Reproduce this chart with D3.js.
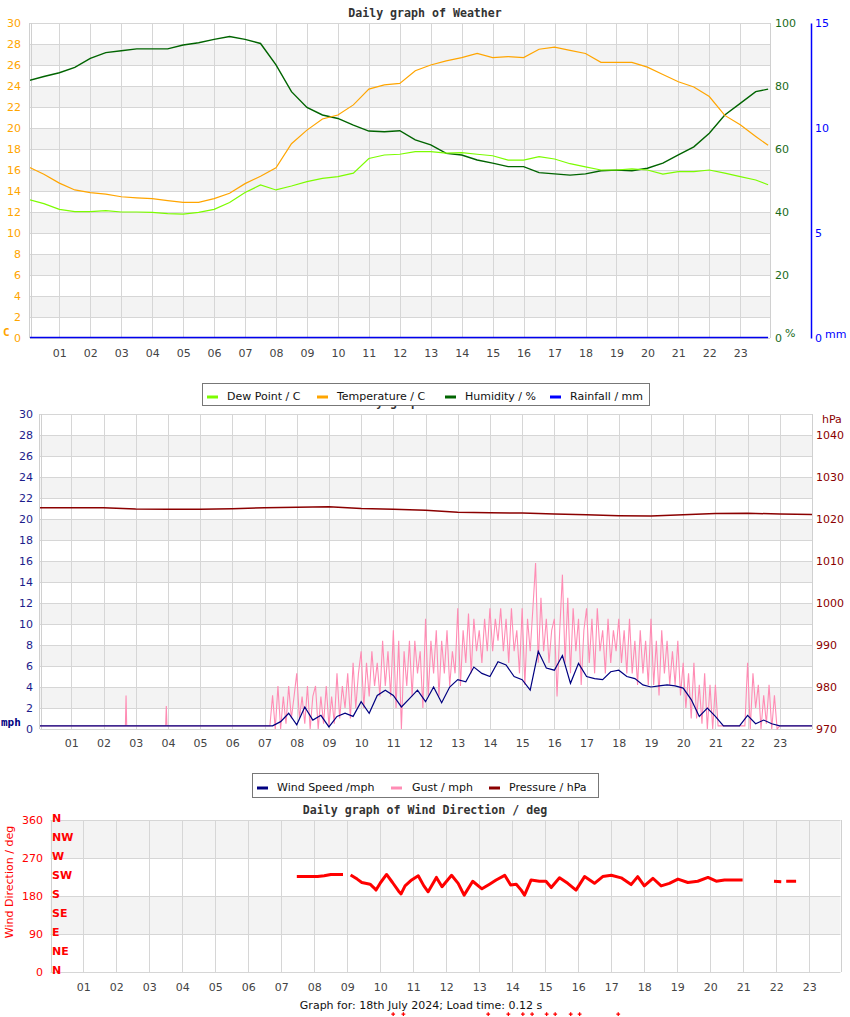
<!DOCTYPE html>
<meta charset="utf-8">
<script src="https://d3js.org/d3.v7.min.js"></script>
<style>
  body { margin: 0; background: #fff; }
  text { font-family: "DejaVu Sans", sans-serif; }
  .title { font-family: "DejaVu Sans Mono", monospace; font-weight: bold; font-size: 11.6px; fill: #333; }
  .unit { font-family: "DejaVu Sans Mono", monospace; font-weight: bold; font-size: 11px; }
</style>
<div id="my_dataviz"></div>
<script>

// ---- data ----
// weather graph: readings every half hour (last one just before midnight)
var halfHours = d3.range(0, 24, 0.5).concat([23.9]);
var temperature = [16.3, 15.6, 14.75, 14.1, 13.85, 13.7, 13.45, 13.35, 13.27, 13.08, 12.92, 12.92,
  13.27, 13.78, 14.7, 15.4, 16.2, 18.5, 19.8, 20.86, 21.24, 22.2, 23.7, 24.1,
  24.25, 25.45, 26.0, 26.4, 26.7, 27.1, 26.7, 26.8, 26.7, 27.5, 27.7, 27.4,
  27.1, 26.25, 26.25, 26.25, 25.8, 25.1, 24.4, 23.9, 23.0, 21.2, 20.3, 19.2, 18.35];
var dewPoint = [13.2, 12.8, 12.25, 12.03, 12.03, 12.13, 12.0, 12.0, 11.97, 11.85, 11.8, 11.97,
  12.25, 12.9, 13.85, 14.57, 14.1, 14.48, 14.9, 15.2, 15.37, 15.7, 17.1, 17.43,
  17.5, 17.75, 17.75, 17.6, 17.65, 17.5, 17.36, 16.95, 16.95, 17.27, 17.05, 16.6,
  16.3, 16.0, 16.0, 16.1, 16.0, 15.6, 15.85, 15.85, 16.0, 15.7, 15.37, 15.05, 14.6];
var humidity = [81.7, 83.0, 84.2, 85.9, 88.8, 90.6, 91.2, 91.8, 91.8, 91.8, 93.0, 93.75,
  94.8, 95.7, 94.8, 93.5, 86.7, 78.2, 73.2, 70.8, 69.7, 67.6, 65.7, 65.5,
  65.8, 62.9, 61.3, 58.6, 58.1, 56.5, 55.5, 54.4, 54.4, 52.5, 52.1, 51.7,
  52.1, 53.1, 53.3, 53.1, 53.9, 55.5, 58.1, 60.7, 65.0, 70.8, 74.5, 78.2, 79.0];
var rainfall = [[0, 0], [23.9, 0]];

// wind graph
var pressureHours = d3.range(0, 25);
var pressure = [1022.7, 1022.7, 1022.7, 1022.4, 1022.3, 1022.3, 1022.45, 1022.7, 1022.8, 1022.9,
  1022.5, 1022.3, 1022.1, 1021.6, 1021.5, 1021.4, 1021.2, 1021.0, 1020.8, 1020.7,
  1021.0, 1021.3, 1021.35, 1021.2, 1021.1];
var windSpeed = [[0, 0.3], [7, 0.3], [7.25, 0.3], [7.5, 0.7], [7.75, 1.5], [8, 0.4], [8.25, 2.1],
  [8.5, 0.85], [8.75, 1.3], [9, 0.2], [9.25, 1.2], [9.5, 1.5], [9.75, 1.2], [10, 2.6],
  [10.25, 1.5], [10.5, 3.2], [10.75, 3.7], [11, 3.2], [11.25, 2.1], [11.5, 2.9], [11.75, 3.7],
  [12, 2.6], [12.25, 4.0], [12.5, 2.5], [12.75, 4.0], [13, 4.7], [13.25, 4.5], [13.5, 5.9],
  [13.75, 5.3], [14, 5.0], [14.25, 6.4], [14.5, 6.1], [14.75, 5.0], [15, 4.7], [15.25, 3.7],
  [15.5, 7.4], [15.75, 5.8], [16, 5.6], [16.25, 7.0], [16.5, 4.35], [16.75, 6.25], [17, 5.0],
  [17.25, 4.8], [17.5, 4.7], [17.75, 5.45], [18, 5.6], [18.25, 5.0], [18.5, 4.8], [18.75, 4.2],
  [19, 4.0], [19.25, 4.1], [19.5, 4.2], [19.75, 4.1], [20, 3.9], [20.25, 2.8], [20.5, 1.2],
  [20.75, 2.0], [21, 1.2], [21.25, 0.3], [21.5, 0.3], [21.75, 0.3], [22, 1.3], [22.25, 0.5],
  [22.5, 0.85], [22.75, 0.5], [23, 0.3], [24, 0.3]];
// gusts: a few night spikes, then readings every 5 minutes from 07:00 to 23:00
var gustNight = [[0, 0.3], [2.68, 0.3], [2.7, 3.2], [2.72, 0.3], [3.93, 0.3], [3.95, 2.2], [3.97, 0.3], [6.99, 0.3]];
var gustStart = 7;
var gust5min = [
  0.3, 0.3, 0.3, 3.2, 0, 4.1, 0, 3.1, 0.5, 4.1, 1.0, 3.1,      // 07
  5.3, 1.0, 3.1, 0.5, 4.1, 0, 3.1, 4.1, 0, 3.1, 0.5, 4.1,      // 08
  0.3, 3.1, 0.5, 5.3, 1.0, 4.1, 2.0, 5.3, 1.0, 6.3, 2.0, 5.3,  // 09
  7.4, 2.0, 6.3, 3.1, 7.4, 4.1, 6.3, 3.1, 8.4, 4.1, 7.4, 3.1,  // 10
  9.4, 2.0, 8.4, 0, 7.4, 4.1, 8.4, 3.1, 8.4, 5.3, 7.4, 2.0,    // 11
  10.5, 3.1, 8.4, 5.3, 9.4, 3.1, 8.4, 5.3, 9.4, 4.1, 7.4, 5.3, // 12
  11.5, 4.1, 9.4, 6.3, 11.0, 5.3, 10.5, 7.4, 9.4, 6.3, 10.5, 7.4, // 13
  11.5, 7.4, 10.5, 8.4, 11.5, 7.4, 10.5, 6.3, 11.5, 7.4, 9.4, 5.3, // 14
  11.5, 4.2, 10.5, 7.4, 11.5, 15.8, 6.3, 12.5, 7.4, 10.5, 6.3, 9.4, // 15
  10.5, 3.1, 9.4, 14.7, 6.3, 12.5, 5.3, 11.5, 7.4, 10.5, 4.2, 9.4, // 16
  11.5, 6.3, 10.5, 5.3, 11.5, 7.4, 9.4, 5.3, 10.5, 6.3, 9.4, 7.4,  // 17
  10.5, 6.3, 9.4, 5.3, 10.5, 5.3, 8.4, 4.2, 9.4, 5.3, 8.4, 4.2,    // 18
  10.5, 4.2, 8.4, 3.2, 9.4, 5.3, 8.4, 4.2, 7.4, 4.2, 8.4, 3.2,     // 19
  6.3, 2.0, 5.3, 1.0, 6.3, 1.0, 4.2, 0.5, 5.3, 0, 4.2, 0,          // 20
  4.2, 0.3, 0.3, 0.3, 0.3, 0.3, 0.3, 0.3, 0.3, 0.3, 0.3, 0.3,      // 21
  6.3, 0, 5.3, 2.0, 4.2, 0, 3.2, 0.5, 4.2, 0, 3.2, 0,              // 22
  0.3, 0.3];
var gustEnd = [[24, 0.3]];

// wind direction graph (null = no reading)
var windDir = [[7.47, 226], [7.8, 226], [8.1, 226], [8.3, 228], [8.5, 231], [8.87, 231], [8.95, null],
  [9.1, 230], [9.3, 220], [9.44, 212], [9.69, 208], [9.8, 200], [9.87, 194], [10.01, 212],
  [10.19, 231], [10.37, 212], [10.55, 192], [10.63, 185], [10.75, 204], [10.95, 218], [11.15, 228],
  [11.32, 204], [11.45, 190], [11.7, 224], [11.87, 202], [12.16, 229], [12.36, 210], [12.54, 182],
  [12.8, 215], [13.08, 197], [13.31, 208], [13.51, 218], [13.77, 229], [13.95, 206], [14.12, 208],
  [14.27, 194], [14.37, 182], [14.57, 218], [14.82, 215], [15.02, 215], [15.18, 200], [15.43, 223],
  [15.68, 210], [15.93, 194], [16.19, 226], [16.49, 210], [16.74, 226], [17.0, 229], [17.3, 223],
  [17.6, 207], [17.8, 226], [18.0, 204], [18.26, 222], [18.51, 204], [18.76, 210], [19.02, 220],
  [19.32, 212], [19.62, 215], [19.93, 224], [20.18, 215], [20.43, 218], [20.98, 218], [21.5, null],
  [21.93, 215], [22.15, 214], [22.22, null], [22.3, 215], [22.6, 215]];
var dirStrayHours = [10.39, 10.7, 13.27, 13.88, 14.32, 14.6, 15.04, 15.3, 15.77, 16.04, 17.21];
var dirStrayValue = -100;

var hourTicks = d3.range(1, 24);
var compass = ["N", "NE", "E", "SE", "S", "SW", "W", "NW", "N"];

// ---- helpers ----
var svg = d3.select("#my_dataviz")
  .append("svg")
    .attr("width", 850)
    .attr("height", 1017);

function frame(x, y, ticks, left, right, doubleLeft) {
  var top = y(ticks[ticks.length - 1]), bottom = y(ticks[0]);
  var g = svg.append("g");
  // alternating grey bands
  g.selectAll("rect")
    .data(ticks.slice(0, -1).map(function(d, i) { return [d, ticks[i + 1], i]; })
      .filter(function(d) { return d[2] % 2 == 1; }))
    .enter().append("rect")
      .attr("x", left)
      .attr("width", right - left)
      .attr("y", function(d) { return y(d[1]); })
      .attr("height", function(d) { return y(d[0]) - y(d[1]); })
      .attr("fill", "#f3f3f3");
  g.selectAll(".h")
    .data(ticks).enter().append("line")
      .attr("x1", left).attr("x2", right)
      .attr("y1", function(d) { return Math.round(y(d)) + 0.5; })
      .attr("y2", function(d) { return Math.round(y(d)) + 0.5; })
      .attr("stroke", "#d6d6d6");
  g.selectAll(".v")
    .data(hourTicks).enter().append("line")
      .attr("x1", function(d) { return Math.round(x(d)) + 0.5; })
      .attr("x2", function(d) { return Math.round(x(d)) + 0.5; })
      .attr("y1", top).attr("y2", bottom)
      .attr("stroke", "#d6d6d6");
  var edges = doubleLeft ? [left - 1, left + 1, right] : [left, right];
  g.selectAll(".e")
    .data(edges).enter().append("line")
      .attr("x1", function(d) { return Math.round(d) + 0.5; })
      .attr("x2", function(d) { return Math.round(d) + 0.5; })
      .attr("y1", top).attr("y2", bottom)
      .attr("stroke", "#d0d0d0");
  return g;
}

function clip(id, left, top, right, bottom) {
  svg.append("clipPath").attr("id", id)
    .append("rect")
      .attr("x", left).attr("y", top - 2)
      .attr("width", right - left).attr("height", bottom - top + 3);
}

function styleAxis(g, color, size, keepDomain) {
  g.attr("font-family", "DejaVu Sans, sans-serif").attr("font-size", size);
  if (!keepDomain) g.select(".domain").remove();
  g.selectAll(".tick line").remove();
  g.selectAll("text").attr("fill", color);
  return g;
}

function hourAxis(x, yPos) {
  svg.append("g")
    .attr("transform", "translate(0," + yPos + ")")
    .call(d3.axisBottom(x).tickValues(hourTicks).tickFormat(d3.format("02d")).tickSize(0).tickPadding(0))
    .call(styleAxis, "#444", 11);
}

function legend(items, box, textY) {
  var g = svg.append("g");
  g.append("rect")
    .attr("x", box[0] + 0.5).attr("y", box[1] + 0.5)
    .attr("width", box[2]).attr("height", box[3])
    .attr("fill", "#fff").attr("stroke", "#777");
  items.forEach(function(d) {
    g.append("line")
      .attr("x1", d[0]).attr("x2", d[0] + 11)
      .attr("y1", textY - 3).attr("y2", textY - 3)
      .attr("stroke", d[3]).attr("stroke-width", 3);
    g.append("text")
      .attr("x", d[1]).attr("y", textY)
      .attr("font-size", 11).attr("fill", "#111")
      .text(d[2]);
  });
}

// ---- chart 1: weather ----
var x1 = d3.scaleLinear().domain([0, 24]).range([28.4, 771.2]);
var yT = d3.scaleLinear().domain([0, 30]).range([338, 23]);
var yH = d3.scaleLinear().domain([0, 100]).range([338, 23]);
var yR = d3.scaleLinear().domain([0, 15]).range([338, 23]);

svg.append("text").attr("class", "title").attr("x", 425).attr("y", 17)
  .attr("text-anchor", "middle").text("Daily graph of Weather");

frame(x1, yT, d3.range(0, 31, 2), 30, 770, true);
clip("c1", 30, 23, 770, 338);

var p1 = svg.append("g").attr("clip-path", "url(#c1)");
function series1(values, y, color, w) {
  p1.append("path")
    .datum(halfHours.map(function(h, i) { return [h, values[i]]; }))
    .attr("fill", "none").attr("stroke", color).attr("stroke-width", w)
    .attr("d", d3.line().x(function(d) { return x1(d[0]); }).y(function(d) { return y(d[1]); }));
}
series1(humidity, yH, "#006400", 1.4);
series1(dewPoint, yT, "#7cfc00", 1.2);
series1(temperature, yT, "#ffa500", 1.2);
p1.append("path")
  .datum(rainfall)
  .attr("fill", "none").attr("stroke", "#0000ee").attr("stroke-width", 1.6)
  .attr("d", d3.line().x(function(d) { return x1(d[0]); }).y(function(d) { return yR(d[1]) - 0.5; }));

svg.append("g").attr("transform", "translate(30,0)")
  .call(d3.axisLeft(yT).tickValues(d3.range(0, 31, 2)).tickSize(0).tickPadding(9))
  .call(styleAxis, "#ffa500", 11);
svg.append("g").attr("transform", "translate(770,0)")
  .call(d3.axisRight(yH).tickValues([0, 20, 40, 60, 80, 100]).tickSize(0).tickPadding(5))
  .call(styleAxis, "#1a6b1a", 11);
var rAxis = svg.append("g").attr("transform", "translate(811,0)")
  .call(d3.axisRight(yR).tickValues([0, 5, 10, 15]).tickSize(0).tickSizeOuter(0).tickPadding(4))
  .call(styleAxis, "#0000ff", 11, true);
rAxis.select(".domain").attr("stroke", "#0000ff").attr("stroke-width", 1.5);

hourAxis(x1, 349);
svg.append("text").attr("class", "unit").attr("x", 3).attr("y", 336).attr("fill", "#ffa500").text("C");
svg.append("text").attr("x", 785).attr("y", 337).attr("fill", "#1a6b1a")
  .attr("font-size", 11).text("%");
svg.append("text").attr("x", 825).attr("y", 338).attr("fill", "#0000ff")
  .attr("font-size", 11).text("mm");

// ---- chart 2: wind speed / pressure ----
var x2 = d3.scaleLinear().domain([0, 24]).range([39.1, 812]);
var yS = d3.scaleLinear().domain([0, 30]).range([729, 414]);
var yP = d3.scaleLinear().domain([970, 1045]).range([729, 414]);

svg.append("text").attr("class", "title").attr("x", 425).attr("y", 406)
  .attr("text-anchor", "middle").text("Daily graph of Weather");

frame(x2, yS, d3.range(0, 31, 2), 40, 812, true);
clip("c2", 40, 414, 812, 729);

var gust = gustNight
  .concat(gust5min.map(function(v, i) { return [gustStart + i / 12, v]; }))
  .concat(gustEnd);

var p2 = svg.append("g").attr("clip-path", "url(#c2)");
var line2 = function(y) {
  return d3.line().x(function(d) { return x2(d[0]); }).y(function(d) { return y(d[1]); });
};
p2.append("path").datum(gust)
  .attr("fill", "none").attr("stroke", "#ff8cb4").attr("stroke-width", 1.1)
  .attr("d", line2(yS));
p2.append("path").datum(windSpeed)
  .attr("fill", "none").attr("stroke", "#000080").attr("stroke-width", 1.2)
  .attr("d", line2(yS));
p2.append("path").datum(pressureHours.map(function(h, i) { return [h, pressure[i]]; }))
  .attr("fill", "none").attr("stroke", "#8b0000").attr("stroke-width", 1.5)
  .attr("d", line2(yP));

svg.append("g").attr("transform", "translate(40,0)")
  .call(d3.axisLeft(yS).tickValues(d3.range(0, 31, 2)).tickSize(0).tickPadding(7))
  .call(styleAxis, "#1c1c8c", 11);
svg.append("g").attr("transform", "translate(812,0)")
  .call(d3.axisRight(yP).tickValues(d3.range(970, 1041, 10)).tickFormat(d3.format("d"))
    .tickSize(0).tickPadding(4))
  .call(styleAxis, "#8b0000", 11);
hourAxis(x2, 739);
svg.append("text").attr("class", "unit").attr("x", 1).attr("y", 726).attr("fill", "#000080").text("mph");
svg.append("text").attr("x", 822).attr("y", 423).attr("fill", "#8b0000")
  .attr("font-size", 11).text("hPa");

legend([[207, 227, "Dew Point / C", "#7cfc00"], [317, 337, "Temperature / C", "#ffa500"],
        [445, 465, "Humidity / %", "#006400"], [550, 570, "Rainfall / mm", "#0000ff"]],
       [202, 383, 447, 22], 400);
legend([[257, 277, "Wind Speed /mph", "#000080"], [391, 412, "Gust / mph", "#ff8cb4"],
        [489, 509, "Pressure / hPa", "#8b0000"]],
       [252, 773, 346, 24], 791);

// ---- chart 3: wind direction ----
var x3 = d3.scaleLinear().domain([0, 24]).range([50.3, 842.3]);
var yD = d3.scaleLinear().domain([0, 360]).range([972, 820]);

svg.append("text").attr("class", "title").attr("x", 425).attr("y", 814)
  .attr("text-anchor", "middle").text("Daily graph of Wind Direction / deg");

frame(x3, yD, [0, 90, 180, 270, 360], 50.5, 840.5, false);
clip("c3", 50, 820, 841, 972);

svg.append("g").attr("clip-path", "url(#c3)")
  .append("path").datum(windDir)
    .attr("fill", "none").attr("stroke", "#ff0000").attr("stroke-width", 3)
    .attr("stroke-linejoin", "round")
    .attr("d", d3.line()
      .defined(function(d) { return d[1] != null; })
      .x(function(d) { return x3(d[0]); })
      .y(function(d) { return yD(d[1]); }));

svg.append("g").selectAll("path")
  .data(dirStrayHours).enter().append("path")
    .attr("transform", function(d) { return "translate(" + x3(d) + "," + yD(dirStrayValue) + ")"; })
    .attr("d", d3.symbol().type(d3.symbolCross).size(8))
    .attr("fill", "#ff0000");

svg.append("g").attr("transform", "translate(50,0)")
  .call(d3.axisLeft(yD).tickValues([0, 90, 180, 270, 360]).tickSize(0).tickPadding(7))
  .call(styleAxis, "#ff0000", 11);
var cAxis = svg.append("g").attr("transform", "translate(50,0)")
  .call(d3.axisRight(yD).tickValues(d3.range(0, 361, 45))
    .tickFormat(function(d, i) { return compass[i]; }).tickSize(0).tickPadding(2))
  .call(styleAxis, "#ff0000", 11);
cAxis.attr("font-family", "DejaVu Sans Mono, monospace").attr("font-weight", "bold");
cAxis.selectAll("text").attr("dy", "0.15em");

hourAxis(x3, 983);
svg.append("text")
  .attr("transform", "translate(13,882) rotate(-90)")
  .attr("text-anchor", "middle").attr("fill", "#ff0000").attr("font-size", 11)
  .text("Wind Direction / deg");

svg.append("text").attr("x", 421).attr("y", 1009).attr("text-anchor", "middle")
  .attr("font-size", 11).attr("fill", "#111")
  .text("Graph for: 18th July 2024; Load time: 0.12 s");

</script>
